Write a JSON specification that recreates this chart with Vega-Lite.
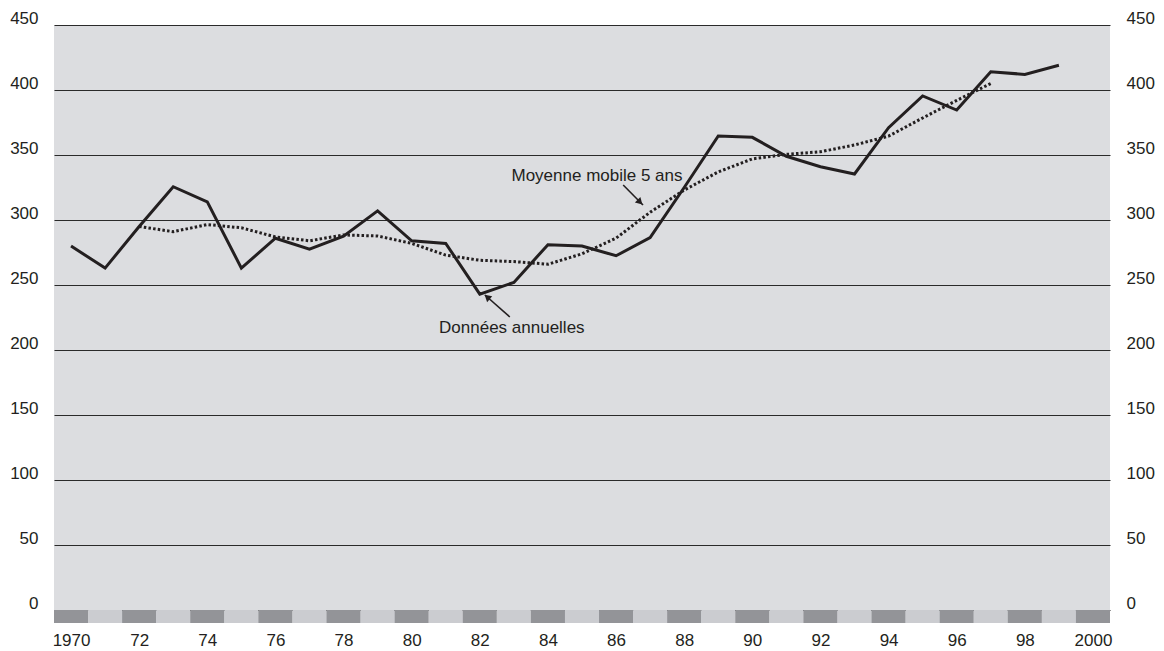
{
  "$schema": "https://vega.github.io/schema/vega-lite/v6.json",
  "width": 1056,
  "height": 598,
  "autosize": {"type": "none"},
  "padding": {"left": 54, "top": 25, "right": 54, "bottom": 28},
  "background": "white",
  "config": {
    "view": {"fill": "#dcdde0", "stroke": null},
    "axis": {"domain": false, "ticks": false, "labelFont": "Liberation Sans", "labelFontSize": 17, "labelColor": "#231f20", "title": null}
  },
  "datasets": {
    "annual": [
      {"year": 1970, "value": 280}, {"year": 1971, "value": 263}, {"year": 1972, "value": 295},
      {"year": 1973, "value": 325.6}, {"year": 1974, "value": 314}, {"year": 1975, "value": 263},
      {"year": 1976, "value": 286}, {"year": 1977, "value": 277.5}, {"year": 1978, "value": 287.5},
      {"year": 1979, "value": 307}, {"year": 1980, "value": 284}, {"year": 1981, "value": 282},
      {"year": 1982, "value": 243}, {"year": 1983, "value": 252}, {"year": 1984, "value": 281},
      {"year": 1985, "value": 280}, {"year": 1986, "value": 272.5}, {"year": 1987, "value": 286.5},
      {"year": 1988, "value": 325}, {"year": 1989, "value": 364.6}, {"year": 1990, "value": 363.6},
      {"year": 1991, "value": 349}, {"year": 1992, "value": 341}, {"year": 1993, "value": 335.4},
      {"year": 1994, "value": 371}, {"year": 1995, "value": 395.4}, {"year": 1996, "value": 384.6},
      {"year": 1997, "value": 414}, {"year": 1998, "value": 412}, {"year": 1999, "value": 419}
    ],
    "ma": [
      {"year": 1972, "value": 295}, {"year": 1973, "value": 291}, {"year": 1974, "value": 296.5},
      {"year": 1975, "value": 294}, {"year": 1976, "value": 287}, {"year": 1977, "value": 284},
      {"year": 1978, "value": 288.5}, {"year": 1979, "value": 287.7}, {"year": 1980, "value": 282},
      {"year": 1981, "value": 273}, {"year": 1982, "value": 269}, {"year": 1983, "value": 268},
      {"year": 1984, "value": 266}, {"year": 1985, "value": 274}, {"year": 1986, "value": 286},
      {"year": 1987, "value": 306}, {"year": 1988, "value": 323}, {"year": 1989, "value": 337},
      {"year": 1990, "value": 347}, {"year": 1991, "value": 350.5}, {"year": 1992, "value": 352.5},
      {"year": 1993, "value": 357.7}, {"year": 1994, "value": 364.5}, {"year": 1995, "value": 378.5},
      {"year": 1996, "value": 392}, {"year": 1997, "value": 405}
    ],
    "strip": [
      {"year": 1970, "shade": "dark"}, {"year": 1971, "shade": "light"}, {"year": 1972, "shade": "dark"},
      {"year": 1973, "shade": "light"}, {"year": 1974, "shade": "dark"}, {"year": 1975, "shade": "light"},
      {"year": 1976, "shade": "dark"}, {"year": 1977, "shade": "light"}, {"year": 1978, "shade": "dark"},
      {"year": 1979, "shade": "light"}, {"year": 1980, "shade": "dark"}, {"year": 1981, "shade": "light"},
      {"year": 1982, "shade": "dark"}, {"year": 1983, "shade": "light"}, {"year": 1984, "shade": "dark"},
      {"year": 1985, "shade": "light"}, {"year": 1986, "shade": "dark"}, {"year": 1987, "shade": "light"},
      {"year": 1988, "shade": "dark"}, {"year": 1989, "shade": "light"}, {"year": 1990, "shade": "dark"},
      {"year": 1991, "shade": "light"}, {"year": 1992, "shade": "dark"}, {"year": 1993, "shade": "light"},
      {"year": 1994, "shade": "dark"}, {"year": 1995, "shade": "light"}, {"year": 1996, "shade": "dark"},
      {"year": 1997, "shade": "light"}, {"year": 1998, "shade": "dark"}, {"year": 1999, "shade": "light"},
      {"year": 2000, "shade": "dark"}
    ],
    "notes": [
      {"label": "Moyenne mobile 5 ans", "year": 1985.44, "value": 333.8, "tailYear": 1986.21, "tailValue": 326.9, "tipYear": 1986.79, "tipValue": 311.5, "headYear": 1986.68, "headValue": 314.4},
      {"label": "Données annuelles", "year": 1982.94, "value": 216.9, "tailYear": 1982.88, "tailValue": 225.4, "tipYear": 1982.15, "tipValue": 242.3, "headYear": 1982.24, "headValue": 240.2}
    ]
  },
  "layer": [
    {
      "data": {"name": "strip"},
      "mark": {"type": "bar", "size": 34.07},
      "encoding": {
        "x": {"field": "year", "type": "quantitative", "scale": {"domain": [1969.5, 2000.5], "nice": false, "zero": false, "padding": 0},
              "axis": {"values": [1970, 1972, 1974, 1976, 1978, 1980, 1982, 1984, 1986, 1988, 1990, 1992, 1994, 1996, 1998, 2000],
                       "format": "d", "grid": false, "labelPadding": 9,
                       "labelExpr": "datum.value == 1970 || datum.value == 2000 ? datum.label : substring(datum.label, 2)"}},
        "y": {"datum": 0, "type": "quantitative", "scale": {"domain": [-10, 450], "nice": false, "zero": false}, "axis": null},
        "y2": {"datum": -10},
        "color": {"field": "shade", "type": "nominal", "scale": {"domain": ["dark", "light"], "range": ["#939498", "#cbccd0"]}, "legend": null}
      }
    },
    {
      "data": {"name": "annual"},
      "mark": {"type": "line", "color": "#231f20", "strokeWidth": 3, "strokeJoin": "miter"},
      "encoding": {
        "x": {"field": "year", "type": "quantitative"},
        "y": {"field": "value", "type": "quantitative",
              "axis": {"orient": "left", "values": [0, 50, 100, 150, 200, 250, 300, 350, 400, 450], "grid": false,
                       "labelPadding": 16, "labelBaseline": "middle", "labelOffset": -7}}
      }
    },
    {
      "data": {"name": "ma"},
      "mark": {"type": "line", "color": "#231f20", "strokeWidth": 3, "strokeDash": [2.5, 2.2]},
      "encoding": {
        "x": {"field": "year", "type": "quantitative"},
        "y": {"field": "value", "type": "quantitative",
              "axis": {"orient": "right", "values": [0, 50, 100, 150, 200, 250, 300, 350, 400, 450],
                       "grid": true, "gridColor": "#2a2a2a", "gridWidth": 1.2, "gridOpacity": 1,
                       "labelPadding": 16, "labelBaseline": "middle", "labelOffset": -7, "labelAlign": "left"}}
      }
    },
    {
      "data": {"name": "notes"},
      "mark": {"type": "rule", "color": "#231f20", "strokeWidth": 1.6},
      "encoding": {
        "x": {"field": "tailYear", "type": "quantitative"},
        "y": {"field": "tailValue", "type": "quantitative", "axis": null},
        "x2": {"field": "tipYear"},
        "y2": {"field": "tipValue"}
      }
    },
    {
      "data": {"name": "notes"},
      "transform": [{"filter": "datum.label == 'Moyenne mobile 5 ans'"}],
      "mark": {"type": "point", "shape": "triangle", "filled": true, "color": "#231f20", "opacity": 1, "size": 60, "angle": 135},
      "encoding": {
        "x": {"field": "headYear", "type": "quantitative"},
        "y": {"field": "headValue", "type": "quantitative", "axis": null}
      }
    },
    {
      "data": {"name": "notes"},
      "transform": [{"filter": "datum.label == 'Données annuelles'"}],
      "mark": {"type": "point", "shape": "triangle", "filled": true, "color": "#231f20", "opacity": 1, "size": 60, "angle": 311},
      "encoding": {
        "x": {"field": "headYear", "type": "quantitative"},
        "y": {"field": "headValue", "type": "quantitative", "axis": null}
      }
    },
    {
      "data": {"name": "notes"},
      "mark": {"type": "text", "font": "Liberation Sans", "fontSize": 17, "color": "#231f20", "align": "center", "baseline": "middle"},
      "encoding": {
        "x": {"field": "year", "type": "quantitative"},
        "y": {"field": "value", "type": "quantitative", "axis": null},
        "text": {"field": "label"}
      }
    }
  ],
  "resolve": {"axis": {"y": "independent"}}
}
